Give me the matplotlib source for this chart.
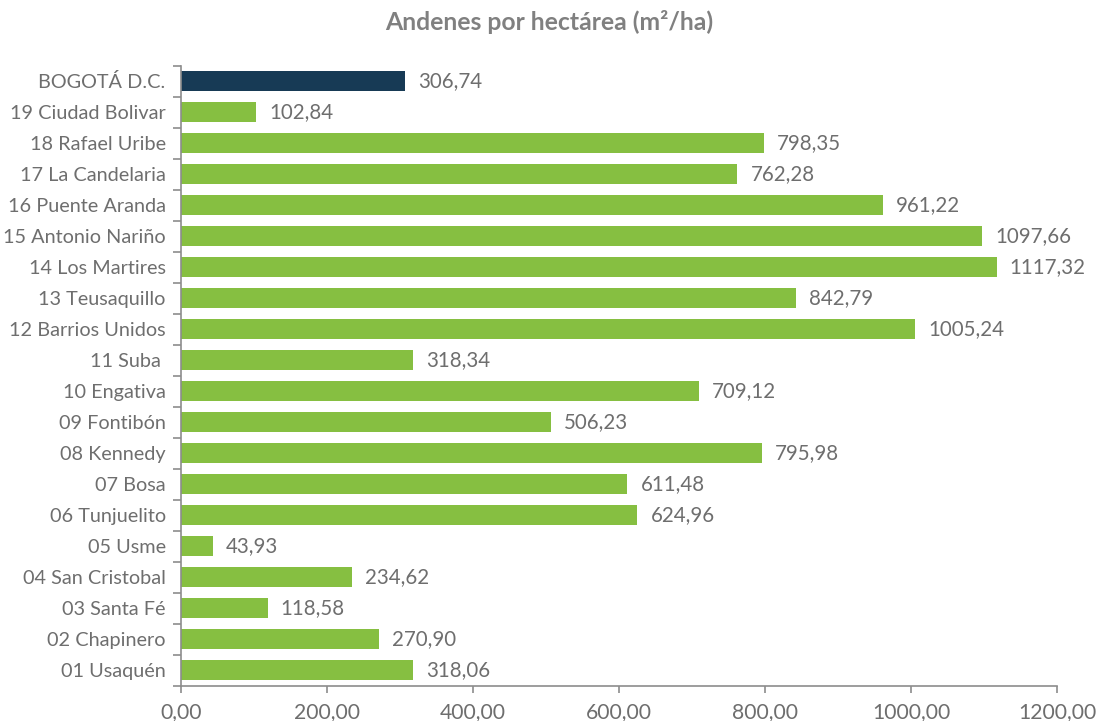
import matplotlib.pyplot as plt

# ===============================
# DATA
# ===============================
localidades = [
    "BOGOTÁ D.C.", "19 Ciudad Bolivar", "18 Rafael Uribe", "17 La Candelaria",
    "16 Puente Aranda", "15 Antonio Nariño", "14 Los Martires", "13 Teusaquillo",
    "12 Barrios Unidos", "11 Suba ", "10 Engativa", "09 Fontibón", "08 Kennedy",
    "07 Bosa", "06 Tunjuelito", "05 Usme", "04 San Cristobal", "03 Santa Fé",
    "02 Chapinero", "01 Usaquén",
]
andenes = [
    306.74, 102.84, 798.35, 762.28, 961.22, 1097.66, 1117.32, 842.79,
    1005.24, 318.34, 709.12, 506.23, 795.98, 611.48, 624.96, 43.93,
    234.62, 118.58, 270.90, 318.06,
]
x_ticks = [0, 200, 400, 600, 800, 1000, 1200]

GREEN = "#86BF41"
NAVY = "#173A55"
TEXT = "#6E6E6E"
AXIS = "#8C8C8C"

plt.rcParams['font.family'] = ['Lato', 'DejaVu Sans']

fig = plt.figure(figsize=(10.98, 7.21), dpi=100)
ax = fig.add_axes([181 / 1098, 1 - 685.5 / 721, 876 / 1098, 620 / 721])

pos = list(range(len(localidades)))[::-1]
colors = [NAVY] + [GREEN] * (len(localidades) - 1)
ax.barh(pos, andenes, height=0.65, color=colors)

for y, v in zip(pos, andenes):
    txt = f"{v:.2f}".replace(".", ",")
    ax.annotate(txt, (v, y), xytext=(9.5, 0), textcoords="offset points",
                va="center", ha="left", fontsize=14.8, color=TEXT)

ax.set_xlim(0, 1200)
ax.set_ylim(-0.5, len(localidades) - 0.5)
ax.set_xticks(x_ticks)
ax.set_xticklabels([f"{t:.2f}".replace(".", ",") for t in x_ticks],
                   fontsize=15.2, color=TEXT)

# category labels at centres, ticks at the boundaries
ax.set_yticks(pos)
ax.set_yticklabels(localidades, fontsize=14.3, color=TEXT)
ax.tick_params(axis="y", length=0, pad=11)
ax.set_yticks([p - 0.5 for p in range(len(localidades) + 1)], minor=True)
ax.tick_params(axis="y", which="minor", length=6, color=AXIS, width=1.2)
ax.tick_params(axis="x", length=5, color=AXIS, width=1.2, pad=7)

for s in ["top", "right"]:
    ax.spines[s].set_visible(False)
for s in ["left", "bottom"]:
    ax.spines[s].set_color(AXIS)
    ax.spines[s].set_linewidth(1.2)

fig.text(0.5, 1 - 22 / 721, "Andenes por hectárea (m²/ha)", ha="center", va="center",
         fontsize=17.8, fontweight="bold", color="#808080")

fig.savefig("out.png", dpi=100)
